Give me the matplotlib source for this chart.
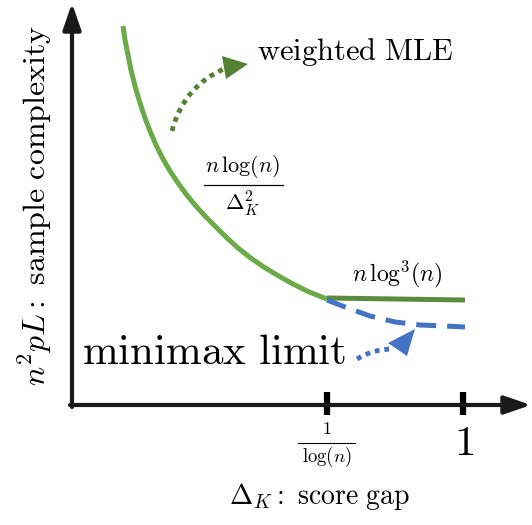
import matplotlib
matplotlib.use("Agg")
import matplotlib.pyplot as plt
from matplotlib.patches import FancyArrowPatch, Polygon

plt.rcParams["mathtext.fontset"] = "cm"

# schematic curves (pixel units, y grows downward)
mle_x = [123, 125, 128, 131, 135, 140, 145, 150, 156, 163, 170, 178, 186, 195,
         205, 215, 226, 238, 250, 263, 277, 292, 308, 327]
mle_y = [26, 40, 55, 70, 86, 103, 118, 131, 145, 159, 171, 183, 194, 205,
         216, 226, 237, 248, 257.5, 266.5, 275, 283.5, 291.5, 299]
flat_x = [327, 465]
flat_y = [298, 300]
mm_x = [327, 345, 370, 395, 420, 445, 465]
mm_y = [300, 307, 316, 322, 325, 326, 327]
tick_x = [327, 463]

green = "#6aab47"
dgreen = "#5b8c3e"
arrow_green = "#548235"
blue = "#4472c4"

fig = plt.figure(figsize=(5.32, 5.25), dpi=100)
ax = fig.add_axes([0, 0, 1, 1])
ax.set_xlim(0, 532)
ax.set_ylim(525, 0)
ax.axis("off")

# axes with arrows
ax.annotate("", xy=(72, 3), xytext=(72, 407),
            arrowprops=dict(arrowstyle="-|>,head_length=1.6,head_width=0.55",
                            lw=3, color="#1a1a1a", shrinkA=0, shrinkB=0))
ax.annotate("", xy=(531, 405), xytext=(70, 405),
            arrowprops=dict(arrowstyle="-|>,head_length=1.6,head_width=0.55",
                            lw=3, color="#1a1a1a", shrinkA=0, shrinkB=0))
for tx in tick_x:
    ax.plot([tx, tx], [392, 415], color="black", lw=4.5, solid_capstyle="butt")

# curves
ax.plot(mle_x, mle_y, color=green, lw=3.6, solid_capstyle="butt", solid_joinstyle="round")
ax.plot(flat_x, flat_y, color=dgreen, lw=3.6, solid_capstyle="butt")
ax.plot(mm_x, mm_y, color=blue, lw=3.6, linestyle=(0, (4, 2.2)))

# green dotted arrow
ax.add_patch(FancyArrowPatch((172, 131), (226, 68), connectionstyle="arc3,rad=-0.25",
                             arrowstyle="-", lw=3.5, linestyle=(0, (1, 1)),
                             capstyle="butt", color=arrow_green, shrinkA=0, shrinkB=0))
ax.add_patch(Polygon([[222, 56], [248, 64], [226, 79]], closed=True,
                     color=arrow_green, lw=0))

# blue dotted arrow
ax.add_patch(FancyArrowPatch((357, 359), (394, 349), connectionstyle="arc3,rad=-0.15",
                             arrowstyle="-", lw=3.5, linestyle=(0, (1, 1)),
                             capstyle="butt", color=blue, shrinkA=0, shrinkB=0))
ax.add_patch(Polygon([[388, 343], [415, 329], [407, 356]], closed=True,
                     color=blue, lw=0))

# text
ax.text(257, 52, r"$\mathrm{weighted\ MLE}$", fontsize=22, ha="left", va="center")
ax.text(82, 352, r"$\mathrm{minimax\ limit}$", fontsize=31, ha="left", va="center")

# n log(n) / Delta_K^2
ax.text(243, 167, r"$n\,\log(n)$", fontsize=16, ha="center", va="center")
ax.plot([204, 283], [185, 185], color="black", lw=0.9)
ax.text(243, 203, r"$\Delta_K^2$", fontsize=16, ha="center", va="center")

ax.text(397, 274, r"$n\,\log^3\!(n)$", fontsize=17, ha="center", va="center")

# tick labels
ax.text(327, 429, r"$1$", fontsize=13, ha="center", va="center")
ax.plot([298, 355], [443, 443], color="black", lw=0.8)
ax.text(327, 457, r"$\log(n)$", fontsize=13.5, ha="center", va="center")
ax.text(464, 443, r"$1$", fontsize=31, ha="center", va="center")

ax.text(320, 497, r"$\Delta_K:\ \mathrm{score\ gap}$", fontsize=20, ha="center", va="center")
ax.text(35, 206, r"$n^2pL:\ \mathrm{sample\ complexity}$", fontsize=23,
        ha="center", va="center", rotation=90)

fig.savefig("out.png", dpi=100)
